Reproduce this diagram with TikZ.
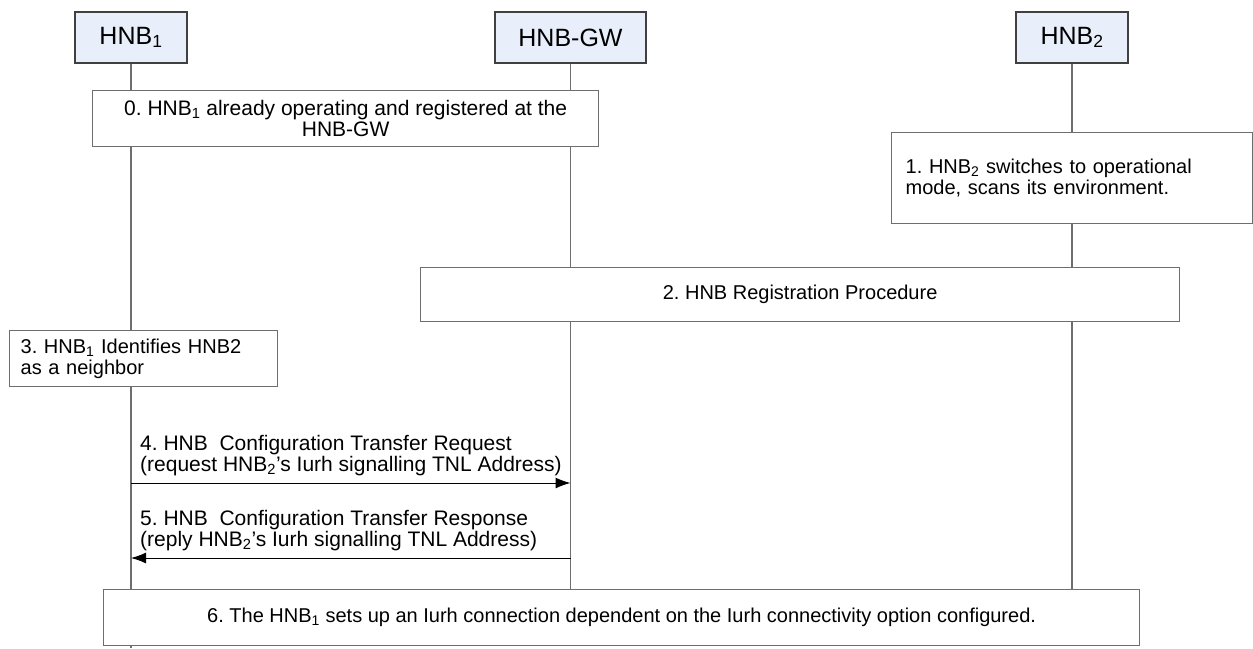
\documentclass[tikz,border=0pt]{standalone}
\usepackage{fontspec}
\setmainfont{Liberation Sans}
\usepackage{tikz}
\usetikzlibrary{arrows.meta,positioning}

\definecolor{headfill}{RGB}{232,238,250}
\definecolor{edge}{RGB}{110,110,110}
\newcommand{\ix}[1]{\textsubscript{#1}}
\frenchspacing

\begin{document}
\begin{tikzpicture}[x=1pt, y=-1pt,
    every node/.style={font=\fontsize{20}{21}\selectfont, inner sep=0pt},
    wide/.style={font=\fontsize{21}{21}\selectfont},
    head/.style={draw=black!75, fill=headfill, line width=1.2pt, minimum height=51pt, font=\fontsize{25}{27}\selectfont},
    stepbox/.style={draw=edge, fill=white, line width=1.3pt, anchor=north west},
    lifeline/.style={draw=edge, line width=1.3pt},
    msg/.style={line width=1pt, -{Latex[length=15pt,width=11pt]}},
    lbl/.style={wide, align=left, anchor=south west}]
    \useasboundingbox (0,0) rectangle (1253,648);
    \node [head, minimum width=112pt] (hnbA) at (131,37.5) {HNB\ix{1}};
    \node [head, minimum width=151pt] (gw) at (570.5,37.5) {HNB-GW};
    \node [head, minimum width=112pt] (hnbB) at (1072,37.5) {HNB\ix{2}};
    \coordinate (endA) at (131,648);
    \coordinate (endG) at (570.5,589);
    \coordinate (endB) at (1072,589);
    \draw [lifeline] (hnbA) -- (endA);
    \draw [lifeline] (gw) -- (endG);
    \draw [lifeline] (hnbB) -- (endB);
    \node [stepbox, wide, minimum width=506pt, minimum height=56pt, align=center] (s0) at (92,90) {0. HNB\ix{1} already operating and registered at the\\HNB-GW};
    \node [stepbox, minimum width=361pt, minimum height=91pt, text width=333pt, inner xsep=14pt, align=left] (s1) at (891,132) {1. HNB\ix{2} switches to operational\\mode, scans its environment.\\[14pt]};
    \node [stepbox, minimum width=759pt, minimum height=54pt, align=center] (s2) at (420,267) {2. HNB Registration Procedure};
    \node [stepbox, minimum width=268pt, minimum height=56pt, text width=246pt, inner xsep=11pt, align=left] (s3) at (9,330) {3. HNB\ix{1} Identifies HNB2\\as a neighbor};
    \coordinate (a4) at (131,483);
    \coordinate (g4) at (570.5,483);
    \coordinate (g5) at (570.5,558);
    \coordinate (a5) at (131,558);
    \draw [msg] (a4) -- (g4);
    \draw [msg] (g5) -- (a5);
    \node [lbl] (m4) at ([xshift=9pt, yshift=7pt]a4) {4. HNB\ \ Configuration Transfer Request\\(request HNB\ix{2}'s Iurh signalling TNL Address)};
    \node [lbl] (m5) at ([xshift=9pt, yshift=7pt]a5) {5. HNB\ \ Configuration Transfer Response\\(reply HNB\ix{2}'s Iurh signalling TNL Address)};
    \node [stepbox, minimum width=1036pt, minimum height=56pt, align=center] (s6) at (103,589) {6. The HNB\ix{1} sets up an Iurh connection dependent on the Iurh connectivity option configured.};
  \end{tikzpicture}
\end{document}
